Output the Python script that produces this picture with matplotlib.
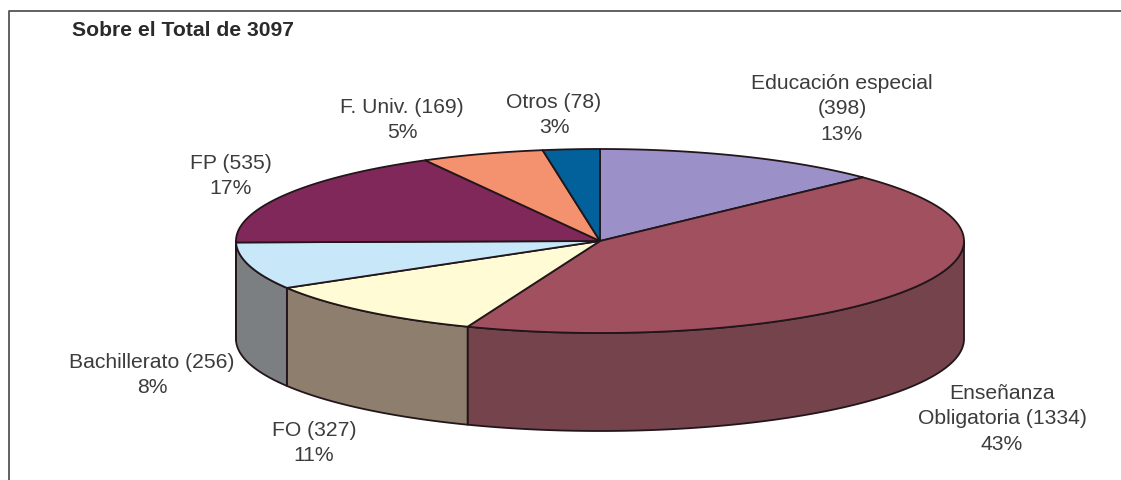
import numpy as np
import matplotlib
matplotlib.use("Agg")
import matplotlib.pyplot as plt

# values clockwise from the top of the pie
categories = ["Educación especial", "Enseñanza Obligatoria", "FO", "Bachillerato", "FP", "F. Univ.", "Otros"]
values = [398, 1334, 327, 256, 535, 169, 78]
percents = [13, 43, 11, 8, 17, 5, 3]
total = 3097

top_colors = ["#9B90C8", "#A0505E", "#FFFBD5", "#C8E8FA", "#80285A", "#F4916F", "#02609B"]
side_colors = ["#6E6690", "#74434C", "#8D7E6D", "#7B7F82", "#5A1C40", "#AD6750", "#02446E"]

# pie geometry in pixels
cx, cy = 600, 241
rx, ry = 364, 92
depth = 98
line_color = "#22161A"
text_color = "#3C3C3C"

plt.rcParams["font.family"] = ["Liberation Sans", "DejaVu Sans"]


def rim(a0, a1):
    t = np.radians(np.linspace(a0, a1, 120))
    return cx + rx * np.sin(t), cy - ry * np.cos(t)


fig = plt.figure(figsize=(11.21, 4.80), dpi=100)
ax = fig.add_axes([0, 0, 1, 1])
ax.set_xlim(0, 1121)
ax.set_ylim(480, 0)
ax.axis("off")

# frame, only top and left are in the picture
ax.plot([9, 9, 1121], [480, 11, 11], color="#555555", lw=1.3, zorder=1)

angles = np.concatenate([[0], np.cumsum(values) / total * 360])

# sides first
for i in range(len(values)):
    a0, a1 = max(angles[i], 90), min(angles[i + 1], 270)
    if a1 <= a0:
        continue
    x, y = rim(a0, a1)
    px = np.concatenate([x, x[::-1]])
    py = np.concatenate([y, y[::-1] + depth])
    ax.fill(px, py, facecolor=side_colors[i], edgecolor=line_color, lw=1.3, joinstyle="round", zorder=2)

# top of the pie
for i in range(len(values)):
    x, y = rim(angles[i], angles[i + 1])
    px = np.concatenate([[cx], x])
    py = np.concatenate([[cy], y])
    ax.fill(px, py, facecolor=top_colors[i], edgecolor=line_color, lw=1.3, joinstyle="round", zorder=3)

ax.text(72, 30, "Sobre el Total de 3097", fontsize=15.2, fontweight="bold", color="#2A2A2A", ha="left", va="center")

labels = [
    (842, 109, f"Educación especial\n({values[0]})\n{percents[0]}%"),
    (1002, 419, f"Enseñanza\nObligatoria ({values[1]})\n{percents[1]}%"),
    (314, 443, f"FO ({values[2]})\n{percents[2]}%"),
    (152, 375, f"Bachillerato ({values[3]})\n{percents[3]}%"),
    (231, 176, f"FP ({values[4]})\n{percents[4]}%"),
    (402, 120, f"F. Univ. ({values[5]})\n{percents[5]}%"),
    (554, 115, f"Otros ({values[6]})\n{percents[6]}%"),
]
for lx, ly, txt in labels:
    ax.text(lx, ly, txt, fontsize=15.2, color=text_color, ha="center", va="center", linespacing=1.44, zorder=4)

fig.savefig("out.png", dpi=100, facecolor="white")
